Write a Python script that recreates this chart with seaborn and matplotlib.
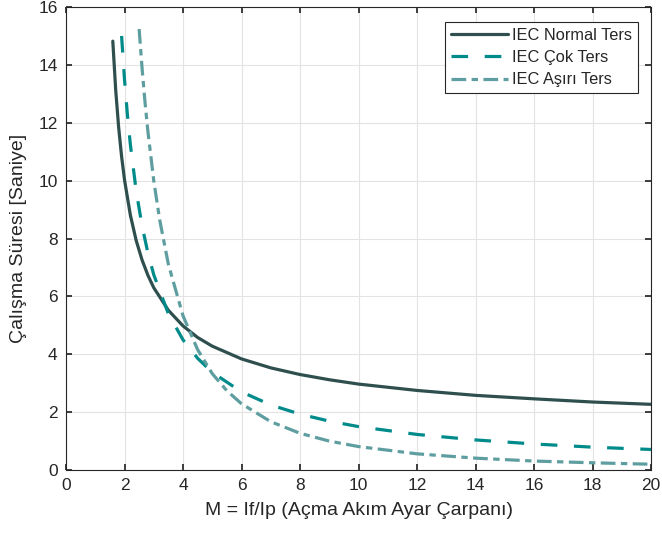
import numpy as np
import pandas as pd
import seaborn as sns
import matplotlib
matplotlib.use("Agg")
import matplotlib.pyplot as plt

# Values
m_normal = [1.6, 1.7, 1.8, 1.9, 2.0, 2.2, 2.4, 2.6, 2.8, 3.0, 3.5, 4.0, 4.5, 5.0, 6.0, 7.0, 8.0, 9.0, 10.0, 12.0, 14.0, 16.0, 18.0, 20.0]
t_normal = [14.82, 13.12, 11.84, 10.84, 10.03, 8.81, 7.93, 7.26, 6.73, 6.30, 5.52, 4.98, 4.58, 4.28, 3.84, 3.53, 3.30, 3.12, 2.97, 2.75, 2.58, 2.46, 2.35, 2.27]

m_very = [1.9, 2.0, 2.1, 2.2, 2.4, 2.6, 2.8, 3.0, 3.5, 4.0, 4.5, 5.0, 6.0, 7.0, 8.0, 9.0, 10.0, 12.0, 14.0, 16.0, 18.0, 20.0]
t_very = [15.0, 13.5, 12.27, 11.25, 9.64, 8.44, 7.5, 6.75, 5.4, 4.5, 3.86, 3.375, 2.7, 2.25, 1.93, 1.69, 1.5, 1.23, 1.04, 0.9, 0.79, 0.71]

m_ext = [2.5, 2.6, 2.7, 2.8, 3.0, 3.2, 3.5, 4.0, 4.5, 5.0, 5.5, 6.0, 7.0, 8.0, 9.0, 10.0, 12.0, 14.0, 16.0, 18.0, 20.0]
t_ext = [15.24, 13.89, 12.72, 11.70, 10.0, 8.66, 7.11, 5.33, 4.16, 3.33, 2.74, 2.29, 1.67, 1.27, 1.0, 0.81, 0.56, 0.41, 0.31, 0.25, 0.20]

labels = ["IEC Normal Ters", "IEC Çok Ters", "IEC Aşırı Ters"]
colors = ["#2F4F4F", "#008B8B", "#5F9EA0"]

df = pd.concat([
    pd.DataFrame({"M": m_normal, "t": t_normal, "curve": labels[0]}),
    pd.DataFrame({"M": m_very, "t": t_very, "curve": labels[1]}),
    pd.DataFrame({"M": m_ext, "t": t_ext, "curve": labels[2]}),
])

sns.set_theme(style="whitegrid")
plt.rcParams['font.family'] = ['Liberation Sans', 'DejaVu Sans']

fig = plt.figure(figsize=(6.62, 5.36), dpi=100)
ax = fig.add_axes([0.0997, 0.1231, 0.8837, 0.8638])

styles = ["-", (0, (5.2, 5.2)), (0, (4.6, 1.7, 2.0, 1.7))]
for lab, col, ls in zip(labels, colors, styles):
    sub = df[df["curve"] == lab]
    sns.lineplot(data=sub, x="M", y="t", ax=ax, color=col, linewidth=2.3,
                 linestyle=ls, label=lab, sort=False, estimator=None)

ax.set_xlim(0, 20)
ax.set_ylim(0, 16)
ax.set_xticks(range(0, 21, 2))
ax.set_yticks(range(0, 17, 2))
ax.grid(True, color="#e3e3e3", linewidth=0.8)
for s in ax.spines.values():
    s.set_visible(True)
    s.set_color("#262626")
    s.set_linewidth(0.8)
ax.tick_params(axis="both", direction="in", length=4, color="#262626",
               labelsize=12.5, labelcolor="#262626", pad=6,
               top=True, right=True, bottom=True, left=True)
ax.set_xlabel("M = If/Ip (Açma Akım Ayar Çarpanı)", fontsize=14, color="#262626", labelpad=6)
ax.set_ylabel("Çalışma Süresi [Saniye]", fontsize=14, color="#262626", labelpad=8)

leg = ax.legend(loc="upper right", fontsize=11.8, frameon=True, fancybox=False,
                edgecolor="#262626", framealpha=1, handlelength=3.5,
                borderpad=0.35, labelspacing=0.45, handletextpad=0.25,
                borderaxespad=0.0, bbox_to_anchor=(0.978, 0.968))
leg.get_frame().set_linewidth(0.8)

fig.savefig("out.png", dpi=100)
